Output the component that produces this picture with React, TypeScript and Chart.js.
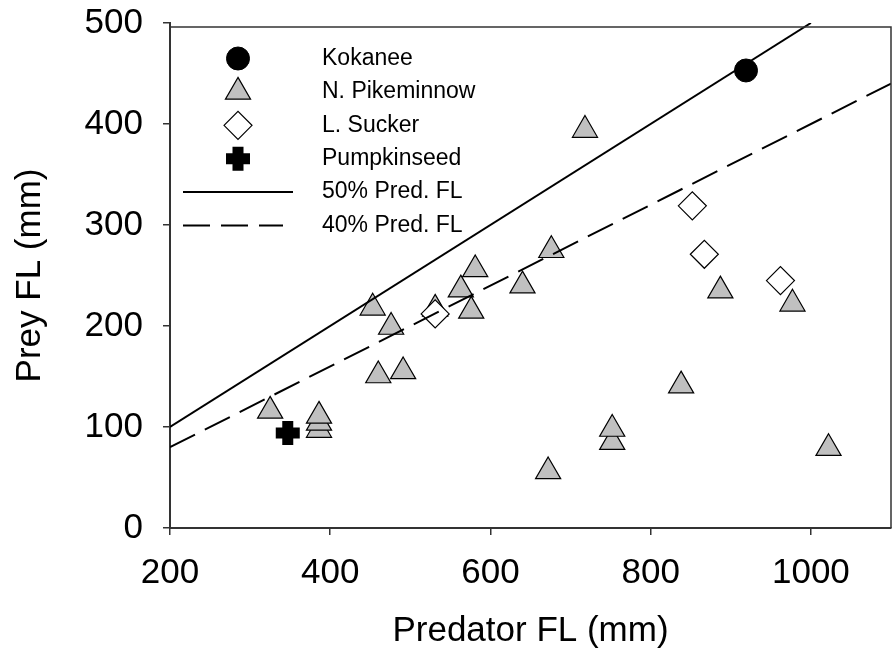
import React, { useEffect, useRef } from 'react';
import { Chart, registerables } from 'chart.js';
import { drawPoint } from 'chart.js/helpers';

Chart.register(...registerables);

const FONT = 'Arial, "Liberation Sans", Helvetica, sans-serif';

// Prey fork length against predator fork length, by prey species
const kokaneeX = [919];
const kokaneeY = [453];

const pikeminnowX = [453, 476, 460, 491, 325, 386, 386, 386, 531, 563, 581, 576, 718, 676, 640, 887, 977, 838, 752, 752, 672, 1022];
const pikeminnowY = [218, 199, 151, 155, 116, 97, 104, 111, 217, 236, 256, 215, 394, 275, 240, 235, 222, 141, 85, 98, 56, 79];

const suckerX = [531, 852, 867, 962];
const suckerY = [212, 319, 271, 245];

const pumpkinseedX = [347];
const pumpkinseedY = [94];

// Reference lines: prey length at 50% and 40% of predator length
const line50X = [200, 1000];
const line50Y = [100, 500];
const line40X = [200, 1100];
const line40Y = [80, 440];

const xRange = [200, 1100];
const yRange = [0, 500];
const xStep = 200;
const yStep = 100;

const legendLabels = ['Kokanee', 'N. Pikeminnow', 'L. Sucker', 'Pumpkinseed', '50% Pred. FL', '40% Pred. FL'];

const toPoints = (xs: number[], ys: number[]) => xs.map((x, i) => ({ x, y: ys[i] }));

const GRAY = '#c0c0c0';
const AXIS = '#333333';

const symbols = [
  { pointStyle: 'circle', radius: 11.5, borderWidth: 1, fill: '#000000', stroke: '#000000' },
  { pointStyle: 'triangle', radius: 14.5, borderWidth: 1.2, fill: GRAY, stroke: '#000000' },
  { pointStyle: 'rectRot', radius: 14, borderWidth: 1.2, fill: '#ffffff', stroke: '#000000' },
  { pointStyle: 'cross', radius: 12, borderWidth: 11, fill: '#000000', stroke: '#000000' },
];

const framePlugin = {
  id: 'frame',
  afterDatasetsDraw(chart: any) {
    const { ctx, chartArea } = chart;
    ctx.save();
    ctx.strokeStyle = AXIS;
    ctx.lineWidth = 1.5;
    ctx.beginPath();
    ctx.moveTo(chartArea.left, chartArea.top + 4);
    ctx.lineTo(chartArea.right, chartArea.top + 4);
    ctx.lineTo(chartArea.right, chartArea.bottom);
    ctx.stroke();
    ctx.restore();
  },
};

const insetLegend = {
  id: 'insetLegend',
  afterDraw(chart: any) {
    const { ctx, chartArea } = chart;
    const symX = chartArea.left + 68;
    const textX = chartArea.left + 152;
    const rowY = (i: number) => chartArea.top + 35.5 + i * 33.4;
    ctx.save();
    symbols.forEach((s, i) => {
      ctx.fillStyle = s.fill;
      ctx.strokeStyle = s.stroke;
      ctx.lineWidth = s.borderWidth;
      ctx.setLineDash([]);
      drawPoint(ctx, { pointStyle: s.pointStyle, radius: s.radius, borderWidth: s.borderWidth, rotation: 0 } as any, symX, rowY(i));
    });
    // line samples
    ctx.strokeStyle = '#000000';
    ctx.lineWidth = 2;
    ctx.beginPath();
    ctx.setLineDash([]);
    ctx.moveTo(chartArea.left + 13, rowY(4));
    ctx.lineTo(chartArea.left + 123, rowY(4));
    ctx.stroke();
    ctx.beginPath();
    ctx.setLineDash([27, 11]);
    ctx.moveTo(chartArea.left + 13, rowY(5));
    ctx.lineTo(chartArea.left + 113, rowY(5));
    ctx.stroke();
    ctx.setLineDash([]);
    ctx.fillStyle = '#000000';
    ctx.font = `23px ${FONT}`;
    ctx.textAlign = 'left';
    ctx.textBaseline = 'middle';
    legendLabels.forEach((t, i) => ctx.fillText(t, textX, rowY(i)));
    ctx.restore();
  },
};

export default function App() {
  const canvasRef = useRef<HTMLCanvasElement | null>(null);

  useEffect(() => {
    const canvas = canvasRef.current;
    if (!canvas) return;

    const pointDataset = (label: string, xs: number[], ys: number[], s: any, order: number) => ({
      type: 'scatter' as const,
      label,
      data: toPoints(xs, ys),
      pointStyle: s.pointStyle,
      pointRadius: s.radius,
      pointHoverRadius: s.radius,
      pointBackgroundColor: s.fill,
      pointBorderColor: s.stroke,
      pointBorderWidth: s.borderWidth,
      showLine: false,
      order,
    });

    const chart = new Chart(canvas, {
      type: 'scatter',
      data: {
        datasets: [
          {
            type: 'line',
            label: '50% Pred. FL',
            data: toPoints(line50X, line50Y),
            borderColor: '#000000',
            borderWidth: 2,
            pointRadius: 0,
            fill: false,
            order: 0,
          },
          {
            type: 'line',
            label: '40% Pred. FL',
            data: toPoints(line40X, line40Y),
            borderColor: '#000000',
            borderWidth: 2,
            borderDash: [28, 11],
            pointRadius: 0,
            fill: false,
            order: 0,
          },
          pointDataset('Kokanee', kokaneeX, kokaneeY, symbols[0], 1),
          pointDataset('L. Sucker', suckerX, suckerY, symbols[2], 2),
          pointDataset('Pumpkinseed', pumpkinseedX, pumpkinseedY, symbols[3], 3),
          pointDataset('N. Pikeminnow', pikeminnowX, pikeminnowY, symbols[1], 4),
        ] as any,
      },
      options: {
        responsive: false,
        animation: false,
        events: [],
        layout: { autoPadding: false, padding: { top: 23, right: 1, left: 0, bottom: 0 } },
        plugins: {
          legend: { display: false },
          tooltip: { enabled: false },
        },
        scales: {
          x: {
            type: 'linear',
            position: 'bottom',
            min: xRange[0],
            max: xRange[1],
            afterFit: (scale: any) => {
              scale.height = 128;
              scale.paddingLeft = 0;
              scale.paddingRight = 0;
            },
            ticks: {
              stepSize: xStep,
              includeBounds: false,
              color: '#000000',
              font: { family: FONT, size: 35 },
              padding: 17,
              maxRotation: 0,
              callback: (v: any) => String(v),
            },
            grid: {
              drawOnChartArea: false,
              drawTicks: true,
              tickLength: 7,
              color: AXIS,
              lineWidth: 1.5,
            },
            border: { display: true, color: AXIS, width: 2 },
            title: {
              display: true,
              text: 'Predator FL (mm)',
              color: '#000000',
              font: { family: FONT, size: 35 },
              padding: { top: 0, bottom: 4 },
            },
          },
          y: {
            type: 'linear',
            min: yRange[0],
            max: yRange[1],
            afterFit: (scale: any) => {
              scale.width = 170;
              scale.paddingTop = 0;
              scale.paddingBottom = 0;
            },
            ticks: {
              stepSize: yStep,
              color: '#000000',
              font: { family: FONT, size: 35 },
              padding: 20,
              callback: (v: any) => String(v),
            },
            grid: {
              drawOnChartArea: false,
              drawTicks: true,
              tickLength: 7,
              color: AXIS,
              lineWidth: 1.5,
            },
            border: { display: true, color: AXIS, width: 2 },
            title: {
              display: true,
              text: 'Prey FL (mm)',
              color: '#000000',
              font: { family: FONT, size: 35 },
              padding: { top: 9, bottom: 0 },
            },
          },
        },
      } as any,
      plugins: [framePlugin, insetLegend],
    });

    return () => chart.destroy();
  }, []);

  return (
    <div style={{ position: 'fixed', left: 0, top: 0, width: 892, height: 656, background: '#ffffff' }}>
      <canvas ref={canvasRef} width={892} height={656} style={{ width: 892, height: 656, display: 'block' }} />
    </div>
  );
}
